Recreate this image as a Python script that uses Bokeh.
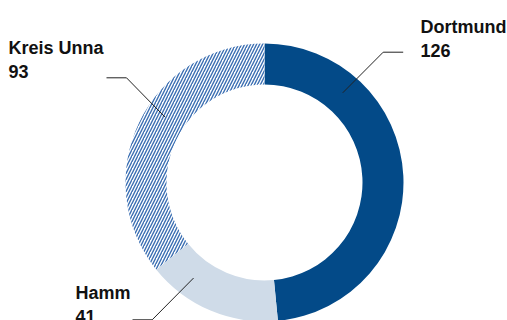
import math
from bokeh.plotting import figure
from bokeh.models import Range1d, ColumnDataSource
from bokeh.core.properties import value
from bokeh.embed import file_html
from bokeh.resources import INLINE

# data
regions = ["Dortmund", "Hamm", "Kreis Unna"]
counts = [126, 41, 93]

# styles / layout
colors = ["#034a88", "#cfdbe8", "#ffffff"]
hatches = [" ", " ", "right_diagonal_line"]
W, H = 507, 320
cx, cy = 264, 320 - 182
r_in, r_out = 98, 139
anchor_angle_deg = {"Dortmund": 48.9, "Hamm": 233.4, "Kreis Unna": 146.7}
anchor_r = 119
elbow = {"Dortmund": (382.7, 51.7), "Hamm": (151.7, 319.3), "Kreis Unna": (126, 77.3)}
line_end = {"Dortmund": (402.7, 51.7), "Hamm": (132, 319.3), "Kreis Unna": (106, 77.3)}
text_pos = {"Dortmund": (420, 26.7), "Hamm": (75, 292.5), "Kreis Unna": (8, 47.7)}
line_gap = 23.5

p = figure(width=W, height=H, output_backend="svg", toolbar_location=None,
           x_range=Range1d(0, W), y_range=Range1d(0, H), min_border=0)
p.axis.visible = False
p.grid.visible = False
p.outline_line_color = None
p.background_fill_color = "white"
p.border_fill_color = "white"

total = sum(counts)
starts, ends = [], []
acc = 0.0
for c in counts:
    a0 = math.pi / 2 - 2 * math.pi * acc / total
    acc += c
    a1 = math.pi / 2 - 2 * math.pi * acc / total
    starts.append(a0)
    ends.append(a1)

src = ColumnDataSource(dict(x=[cx] * 3, y=[cy] * 3, start=starts, end=ends,
                            color=colors, hatch=hatches, name=regions))
p.annular_wedge(x="x", y="y", inner_radius=r_in, outer_radius=r_out,
                start_angle="start", end_angle="end", direction="clock",
                fill_color="color", line_color=None, source=src,
                hatch_pattern="hatch", hatch_color="#3a6eb2", hatch_scale=6,
                hatch_weight=1.4)

# leader lines
for name in regions:
    a = math.radians(anchor_angle_deg[name])
    ax_ = cx + anchor_r * math.cos(a)
    ay_ = cy + anchor_r * math.sin(a)
    ex, ey = elbow[name]
    lx, ly = line_end[name]
    p.line([ax_, ex, lx], [ay_, H - ey, H - ly], line_color="#222222", line_width=1)

# labels
tx, ty, tt = [], [], []
for name, c in zip(regions, counts):
    x0, y0 = text_pos[name]
    tx += [x0, x0]
    ty += [H - y0, H - y0 - line_gap]
    tt += [name, str(c)]
p.text(x=tx, y=ty, text=tt, text_font=value("Liberation Sans"), text_font_style="bold",
       text_font_size="18px", text_color="#111111", text_baseline="alphabetic",
       text_align="left")

open("out.html", "w").write(file_html(p, INLINE))
